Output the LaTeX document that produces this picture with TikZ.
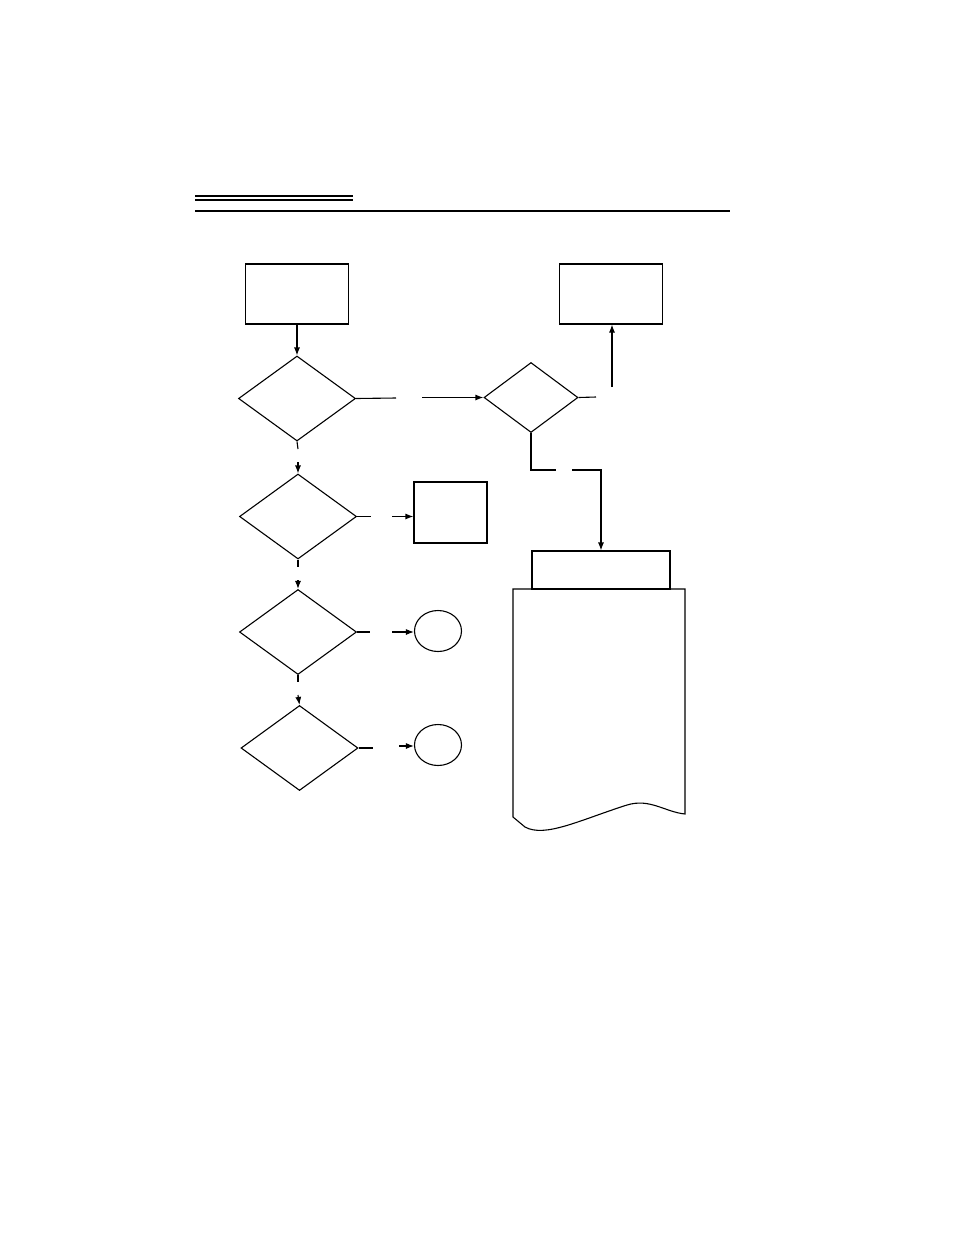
\documentclass[tikz,border=0pt]{standalone}
\usetikzlibrary{shapes.geometric,arrows.meta}
\begin{document}
\begin{tikzpicture}[x=1pt,y=-1pt,line width=1.1pt,
    box/.style={draw,rectangle,inner sep=0pt},
    test/.style={draw,diamond,inner sep=0pt,minimum width=117pt,minimum height=85pt},
    stop/.style={draw,ellipse,inner sep=0pt,minimum width=47pt,minimum height=41pt},
    flow/.style={-{Latex[length=8pt,width=6pt]}}]
    \useasboundingbox (0,0) rectangle (954,1235);
    % title rules
    \draw (195,196) -- (353,196);
    \draw (195,200) -- (353,200);
    \draw (195,211) -- (730,211);
    % shapes
    \node[box,minimum width=103pt,minimum height=60pt] (start) at (297,294) {};
    \node[box,minimum width=103pt,minimum height=60pt] (done) at (611,294) {};
    \node[test] (testa) at (297,398.5) {};
    \node[test,minimum width=94pt,minimum height=70pt] (check) at (531,397.5) {};
    \node[test] (testb) at (298,516.5) {};
    \node[test] (testc) at (298,632) {};
    \node[test] (testd) at (299.5,748) {};
    \node[box,minimum width=73pt,minimum height=61pt] (side) at (450.5,512.5) {};
    \node[stop] (enda) at (438,631) {};
    \node[stop] (endb) at (438,745) {};
    \draw (513,589) -- (513,817) -- (525,827)
          .. controls (545,838) and (580,820) .. (627,805)
          .. controls (650,798) and (665,812) .. (685,814) -- (685,589) -- cycle;
    \node[box,minimum width=138pt,minimum height=38pt] (head) at (601,570) {};
    % break points
    \coordinate (ja) at (396,398);
    \coordinate (jb) at (422,397.5);
    \coordinate (jc) at (596,397);
    \coordinate (jd) at (612,387);
    \coordinate (je) at (556,470);
    \coordinate (jf) at (572,470);
    \coordinate (ka) at (298,449);
    \coordinate (kb) at (298,462);
    \coordinate (kc) at (298,567);
    \coordinate (kd) at (298,580);
    \coordinate (ke) at (298,682);
    \coordinate (kf) at (298,695);
    \coordinate (ma) at (371,516.5);
    \coordinate (mb) at (392,516.5);
    \coordinate (mc) at (370,632);
    \coordinate (md) at (392,632);
    \coordinate (me) at (373,748);
    \coordinate (mf) at (399,746);
    % connectors
    \draw[flow] (start) -- (testa);
    \draw (testa.east) -- (ja);
    \draw[flow] (jb) -- (jb -| check.west);
    \draw (check.east) -- (jc);
    \draw[flow] (jd) -- (jd |- done.south);
    \draw (check.south) |- (je);
    \draw[flow] (jf) -| (head.north);
    \draw (testa.south) -- (ka);
    \draw[flow] (kb) -- (testb.north);
    \draw (testb.south) -- (kc);
    \draw[flow] (kd) -- (testc.north);
    \draw (testc.south) -- (ke);
    \draw[flow] (kf) -- (testd.north);
    \draw (testb.east) -- (ma);
    \draw[flow] (mb) -- (mb -| side.west);
    \draw (testc.east) -- (mc);
    \draw[flow] (md) -- (md -| enda.west);
    \draw (testd.east) -- (me);
    \draw[flow] (mf) -- (mf -| endb.west);
\end{tikzpicture}
\end{document}
